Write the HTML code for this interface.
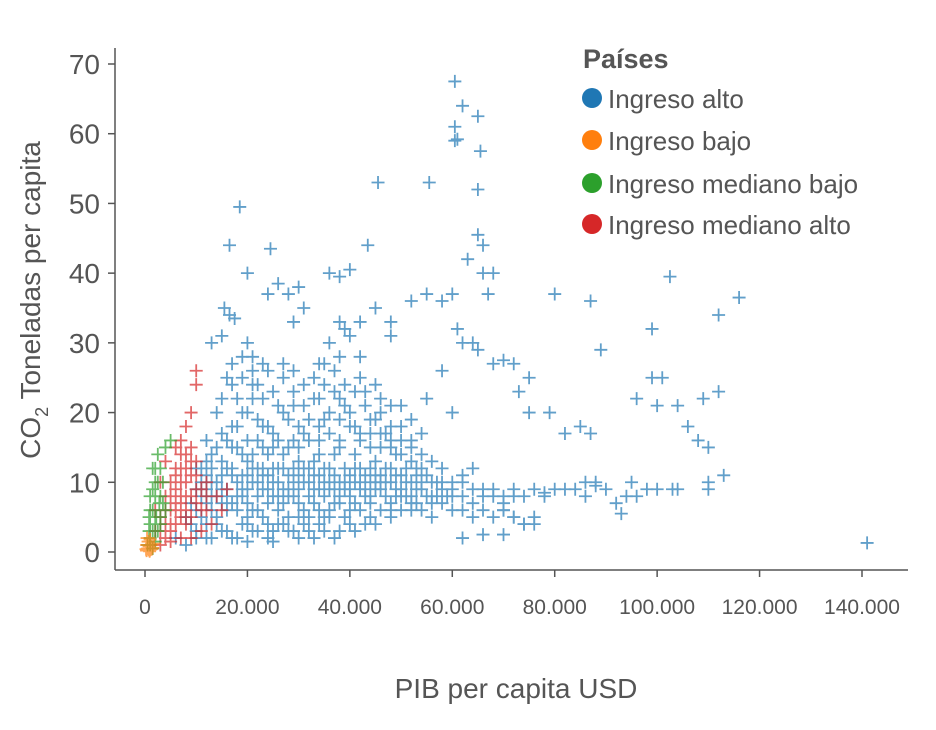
<!DOCTYPE html>
<html><head><meta charset="utf-8"><style>
body{margin:0;background:#fff;}
svg{display:block;font-family:"Liberation Sans",sans-serif;}
</style></head><body>
<svg id="chart" width="936" height="730">
<g id="marks"></g>
<g id="axes"></g>
<g>
<text x="583" y="68" font-size="27" font-weight="bold" fill="#555">Países</text>
<circle cx="592" cy="98" r="10" fill="#1f77b4"/>
<text x="608" y="108" font-size="26" fill="#555">Ingreso alto</text>
<circle cx="592" cy="140" r="10" fill="#ff7f0e"/>
<text x="608" y="150" font-size="26" fill="#555">Ingreso bajo</text>
<circle cx="592" cy="183" r="10" fill="#2ca02c"/>
<text x="608" y="193" font-size="26" fill="#555">Ingreso mediano bajo</text>
<circle cx="592" cy="224" r="10" fill="#d62728"/>
<text x="608" y="234" font-size="26" fill="#555">Ingreso mediano alto</text>
</g>
<text transform="translate(40,300) rotate(-90)" text-anchor="middle" font-size="28" fill="#555">CO<tspan font-size="18" dy="8">2</tspan><tspan dy="-8"> Toneladas per capita</tspan></text>
<text x="516" y="698" text-anchor="middle" font-size="28" fill="#555">PIB per capita USD</text>
</svg>
<script>
const xTicks=[0,20000,40000,60000,80000,100000,120000,140000];
const xTickLabels=["0","20.000","40.000","60.000","80.000","100.000","120.000","140.000"];
const yTicks=[0,10,20,30,40,50,60,70];
const yTickLabels=["0","10","20","30","40","50","60","70"];
// points as "gdp_in_thousands,co2" pairs
const altoPts="60.5,67.5 62,64 60.5,61 65,62.5 60.5,59 65.5,57.5 61,59.2 65,52 45.5,53 55.5,53 18.5,49.5 16.5,44 24.5,43.5 43.5,44 65,45.5 66,44 63,42 66,40 68,40 67,37 20,40 36,40 38,39.5 40,40.5 30,38 26,38.5 28,37 31,35 29,33 24,37 15.5,35 16.5,34 17.5,33.5 15,31 13,30 20,30 21,28 27,27 34,27 36,30 38,33 39,32 40,31 42,33 45,35 48,33 48,31 52,36 55,37 58,36 60,37 61,32 62,30 64,30 65,29 68,27 70,27.5 72,27 75,25 80,37 87,36 89,29 99,32 102.5,39.5 112,34 116,36.5 99,25 101,25 96,22 100,21 104,21 106,18 108,16 110,15 109,22 112,23 113,11 110,10 100,9 103,9 95,10 94,8 93,5.5 88,9.5 86,10 80,9 82,9 78,8.5 76,4 74,4 72,5 70,6 85,18 87,17 82,17 79,20 75,20 73,23 60,20 55,22 50,18 48,15 58,26 141,1.3 62,2 66,2.5 70,2.5 6,2 8,1 10,3 12,2 14,4 16,3 18,2 20,4 22,3 24,2 26,4 28,3 30,5 32,3 34,4 36,5 38,3 40,4 42,6 44,5 46,6 48,5 50,6 52,6 54,6 56,5 58,7 60,6 62,6 64,5 66,6 68,5 70,6 72,5 74,4 76,5 30,2 35,3 45,4 25,1.5 20,1.5 10,6 10,9 12,7 12,11 14,8 14,5 16,9 16,12 18,6 18,10 20,7 20,11 20,13 22,8 22,6 22,12 24,9 24,7 24,14 26,10 26,6 26,12 28,8 28,11 28,15 30,9 30,7 30,13 32,10 32,8 32,16 34,11 34,6 34,14 36,9 36,12 36,17 38,10 38,7 38,15 40,11 40,8 40,18 42,9 42,12 42,16 44,10 44,8 44,17 46,11 46,9 46,15 48,10 48,12 48,18 50,9 50,11 52,10 52,13 54,9 54,12 56,10 58,9 60,10 62,8 64,9 66,8 68,8 70,7 72,8 74,8 76,9 78,8 84,9 90,9 86,8 88,10 92,7 96,8 98,9 104,9 110,9 16,25 17,24 18,22 18,18 19,28 20,20 20,16 21,26 22,24 22,19 23,22 24,26 24,18 25,17 26,21 27,25 28,19 29,23 30,18 31,21 32,19 33,25 34,22 34,18 35,24 36,20 37,26 38,22 38,19 39,24 40,20 41,23 42,25 43,21 44,19 45,24 46,20 47,17 50,16 52,15 54,14 19,14 17,15 15,17 13,14 12,16 14,20 23,15 27,14 11,8 13,10 15,7 17,11 19,9 21,10 23,11 25,8 27,9 29,10 31,12 33,9 35,10 37,11 39,9 41,10 43,11 45,9 47,10 49,8 51,8 53,7 55,8 57,8 59,8 15,13 21,14 25,15 29,16 33,13 37,14 41,14 45,13 49,14 53,11 11,5 13,6 15,9 17,7 19,8 21,6 23,9 25,10 27,7 29,8 31,6 33,11 35,8 37,7 39,12 41,7 43,9 45,11 47,8 49,9 51,10 53,9 55,11 57,10 12,9 14,10 16,8 18,8 20,9 22,10 24,11 26,8 28,9 30,11 32,12 34,9 36,10 38,8 40,9 42,10 44,12 46,10 48,7 50,8 52,8 54,10 56,8 58,10 60,9 62,10 64,7 66,9 68,9 70,8 72,9 15,11 17,12 19,11 21,12 23,12 25,12 27,12 29,12 31,10 33,7 35,12 37,9 39,10 41,12 43,8 45,10 47,12 49,11 51,12 53,12 13,12 11,10 9,7 9,4 8,5 18,15 22,16 26,16 30,15 34,16 38,16 42,17 46,17 50,14 24,4 28,5 32,5 36,6 40,6 44,7 48,6 52,7 56,7 60,8 20,5 16,6 12,4 15,3 19,4 23,5 27,4 31,4 35,5 39,5 43,4 10,2 13,2 17,2 21,3 25,3 29,3 33,2 37,2 41,3 17,18 19,20 21,22 23,18 25,23 27,20 29,21 31,17 33,22 35,19 37,23 39,21 41,18 43,23 45,19 15,22 17,27 19,25 21,24 23,27 29,26 31,24 35,27 38,28 42,28 46,22 48,21 50,21 52,19 54,17 44,15 48,16 52,16 56,13 14,15 16,16 12,13 11,12 10,12 13,8 58,12 62,11 64,12";
const bajoPts="0.3,0.2 0.5,0.5 0.8,0.8 1,0.3 1.2,1 0.6,1.5 1.5,0.6 0.4,2 1.8,1.2 0.2,0.4 0.5,1 0.7,0.3 1.3,0.4 1,1.8 0.9,0.1 0.3,1";
const medBajoPts="0.5,1 1,2 1,4 1.5,6 2,3 2,8 2.5,10 3,5 3,12 3.5,7 4,15 1.5,9 2,12 3,4 0.8,3 2.2,5 2.8,7 4,6 5,16 1,1 1.5,0.5 2,1.5 1,6 1.5,3 2,5 2.5,3 3,8 2,10 1.5,12 3.5,10 2.5,14 1,8 0.8,5";
const medAltoPts="2,3 3,5 4,2 4,8 5,6 5,10 6,4 6,12 7,8 7,14 8,6 8,10 9,13 9,15 10,7 10,11 11,9 12,6 3,1 5,1.5 7,2 9,2 11,3 13,4 6,9 8,12 9,20 10,26 10,24 8,18 7,16 6,15 4,13 3,10 2,6 12,10 14,8 15,6 16,9 5,4 7,5 9,8 4,4 5,3 6,6 7,7 8,8 8,4 9,5 10,9 6,11 7,10 5,8 4,6 3,3 11,6 12,8 9,11 8,14 7,12 6,7 10,13";

const NS="http://www.w3.org/2000/svg";
const X0=115,X1=908,Y0=48,Y1=570;
function xs(v){return 145+(v-0)*(862-145)/140000;}
function ys(v){return 552-v*(552-64)/70;}
function parse(s){return s.trim().split(/\s+/).map(p=>{const a=p.split(",");return [parseFloat(a[0])*1000,parseFloat(a[1])];});}
const marks=document.getElementById("marks");
function draw(str,color,name){
  const g=document.createElementNS(NS,"g");
  
  
  g.setAttribute("stroke",color);g.setAttribute("stroke-width","1.8");g.setAttribute("opacity","0.7");
  parse(str).forEach(([x,y])=>{
    const px=xs(x),py=ys(y);
    const p=document.createElementNS(NS,"path");
    p.setAttribute("d",`M${px-6.5},${py}H${px+6.5}M${px},${py-6.5}V${py+6.5}`);
    
    
    g.appendChild(p);
  });
  marks.appendChild(g);
}
draw(altoPts,"#1f77b4","series-ingreso-alto");
draw(medAltoPts,"#d62728","series-ingreso-mediano-alto");
draw(medBajoPts,"#2ca02c","series-ingreso-mediano-bajo");
draw(bajoPts,"#ff7f0e","series-ingreso-bajo");

const axes=document.getElementById("axes");
function el(tag,attrs,name,text){const e=document.createElementNS(NS,tag);for(const k in attrs)e.setAttribute(k,attrs[k]);
  
  
  if(text!==undefined)e.textContent=text;axes.appendChild(e);return e;}
el("line",{x1:X0,y1:Y0,x2:X0,y2:Y1,stroke:"#555","stroke-width":1.5},"y-axis-line");
el("line",{x1:X0,y1:Y1,x2:X1,y2:Y1,stroke:"#555","stroke-width":1.5},"x-axis-line");
xTicks.forEach((t,i)=>{const x=xs(t);
  el("line",{x1:x,y1:Y1,x2:x,y2:Y1+7,stroke:"#555","stroke-width":1.5},"x-tick");
  el("text",{x:x,y:614,"text-anchor":"middle","font-size":21,fill:"#555"},"x-tick-label",xTickLabels[i]);});
yTicks.forEach((t,i)=>{const y=ys(t);
  el("line",{x1:X0-7,y1:y,x2:X0,y2:y,stroke:"#555","stroke-width":1.5},"y-tick");
  el("text",{x:100,y:y+10,"text-anchor":"end","font-size":28,fill:"#555"},"y-tick-label",yTickLabels[i]);});
</script>
</body></html>
